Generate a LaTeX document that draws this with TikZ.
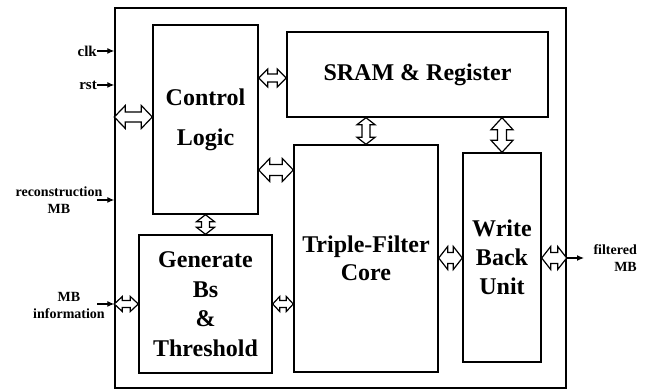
\documentclass[tikz,border=0pt]{standalone}
\usepackage{fontspec}
\setmainfont{Liberation Serif}
\usetikzlibrary{calc,arrows.meta}
% hollow double arrows: (from)(to)(head half width:shaft half width:head length)
\def\harrow(#1)(#2)(#3:#4:#5){\draw[hollow] let \p1=(#1), \p2=(#2) in (\x1,\y1) -- (\x1+#5,\y1+#3) -- (\x1+#5,\y1+#4) -- (\x2-#5,\y1+#4) -- (\x2-#5,\y1+#3) -- (\x2,\y1) -- (\x2-#5,\y1-#3) -- (\x2-#5,\y1-#4) -- (\x1+#5,\y1-#4) -- (\x1+#5,\y1-#3) -- cycle;}
\def\varrow(#1)(#2)(#3:#4:#5){\draw[hollow] let \p1=(#1), \p2=(#2) in (\x1,\y1) -- (\x1+#3,\y1-#5) -- (\x1+#4,\y1-#5) -- (\x1+#4,\y2+#5) -- (\x1+#3,\y2+#5) -- (\x1,\y2) -- (\x1-#3,\y2+#5) -- (\x1-#4,\y2+#5) -- (\x1-#4,\y1-#5) -- (\x1-#3,\y1-#5) -- cycle;}
\tikzset{
  block/.style={draw, line width=1.4pt, align=center, inner sep=0pt},
  hollow/.style={draw=black, fill=white, line width=1.2pt, line join=miter},
  sig/.style={line width=1.2pt, -{Latex[length=7pt,width=6pt]}},
  pin/.style={font=\fontsize{14}{17}\selectfont\bfseries, inner sep=0pt, align=center}
}
\begin{document}
\begin{tikzpicture}[x=1pt, y=-1pt]
			%%%%% START %%%%%
			\useasboundingbox (0, 0) rectangle (649, 390);
			
			\node[block, minimum width=451, minimum height=380] (chip) at (340.5, 198) {};
			
			\node[block, minimum width=105, minimum height=189, font=\fontsize{24}{40}\selectfont\bfseries] (ctrl) at (205.5, 119.5) {Control\\Logic};
			\node[block, minimum width=133, minimum height=138, font=\fontsize{24}{29.5}\selectfont\bfseries] (gen) at (205.5, 304) {Generate\\Bs\\\&\\Threshold};
			\node[block, minimum width=144, minimum height=227, font=\fontsize{24}{28}\selectfont\bfseries] (tri) at (366, 258.5) {Triple-Filter\\Core};
			\node[block, minimum width=261, minimum height=85, font=\fontsize{24}{29}\selectfont\bfseries] (sram) at (417.5, 74.5) {SRAM \& Register};
			\node[block, minimum width=78, minimum height=209, font=\fontsize{24}{29}\selectfont\bfseries] (wbu) at (502, 257.5) {Write\\Back\\Unit};
			
			% rows of the arrows
			\coordinate (r1) at (0, 117);
			\coordinate (r2) at (0, 78);
			\coordinate (r3) at (0, 170);
			\coordinate (r4) at (0, 304);
			\coordinate (r5) at (0, 258);
			
			\harrow(chip.west |- r1)(ctrl.west |- r1)(11.5pt:5pt:11pt)
			\harrow(ctrl.east |- r2)(sram.west |- r2)(9pt:4pt:9pt)
			\harrow(ctrl.east |- r3)(tri.west |- r3)(11.5pt:5.5pt:11pt)
			\harrow(chip.west |- r4)(gen.west |- r4)(7.5pt:3.5pt:8pt)
			\harrow(gen.east |- r4)(tri.west |- r4)(7.5pt:3.5pt:7pt)
			\harrow(tri.east |- r5)(wbu.west |- r5)(11.5pt:5.5pt:9pt)
			\harrow(wbu.east |- r5)(chip.east |- r5)(11.5pt:5.5pt:9pt)
			
			\varrow(ctrl.south)(gen.north)(9pt:4pt:7pt)
			\varrow(sram.south -| tri.north)(tri.north)(9pt:4pt:7pt)
			\varrow(sram.south -| wbu.north)(wbu.north)(11pt:4.5pt:12pt)
			
			% inputs and output
			\node[pin, font=\fontsize{15}{17}\selectfont\bfseries, anchor=east] (clk) at (97, 51) {clk};
			\node[pin, font=\fontsize{15}{17}\selectfont\bfseries, anchor=east] (rst) at (97, 85) {rst};
			\node[pin] (rec) at (59, 200.5) {reconstruction\\MB};
			\node[pin] (info) at (69, 305) {MB\\information};
			\node[pin, align=right, anchor=east] (filt) at (637, 258.5) {filtered\\MB};
			\coordinate (recin) at (97, 200);
			\coordinate (infoin) at (97, 304);
			\coordinate (filtout) at (584, 258);
			
			\draw[sig] (clk.east) -- (clk.east -| chip.west);
			\draw[sig] (rst.east) -- (rst.east -| chip.west);
			\draw[sig] (recin) -- (recin -| chip.west);
			\draw[sig] (infoin) -- (infoin -| chip.west);
			\draw[sig] (chip.east |- filtout) -- (filtout);
			
			%%%%% END %%%%%
\end{tikzpicture}
\end{document}
